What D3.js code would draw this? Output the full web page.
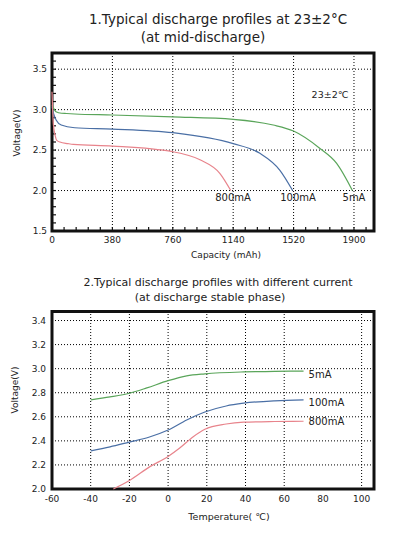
<!DOCTYPE html>
<html>
<head>
<meta charset="utf-8">
<script src="https://cdn.jsdelivr.net/npm/d3@7"></script>
<style>
  body { margin: 0; background: #fff; }
  text { font-family: "DejaVu Sans", sans-serif; fill: #222; }
</style>
</head>
<body>
<div id="chart"></div>
<script>
// chart 1: capacity (mAh) vs voltage, at 23±2°C
var capTicks = [0, 380, 760, 1140, 1520, 1900],
    voltTicks1 = [1.5, 2.0, 2.5, 3.0, 3.5];

var cap5 = [0, 25, 60, 92, 143, 380, 760, 1140, 1392, 1520, 1686, 1791, 1890],
    volt5 = [3.06, 2.975, 2.955, 2.952, 2.946, 2.934, 2.91, 2.88, 2.81, 2.735, 2.52, 2.335, 2.0];
var cap100 = [0, 10, 27, 58, 143, 380, 760, 1140, 1308, 1434, 1514],
    volt100 = [3.04, 2.95, 2.87, 2.81, 2.776, 2.76, 2.715, 2.58, 2.46, 2.25, 2.0];
var cap800 = [0, 4, 8, 20, 30, 50, 100, 134, 380, 760, 931, 1057, 1125],
    volt800 = [3.22, 3.0, 2.83, 2.68, 2.62, 2.6, 2.58, 2.57, 2.55, 2.48, 2.38, 2.21, 2.0];

// chart 2: temperature vs voltage at stable phase
var tempTicks = [-60, -40, -20, 0, 20, 40, 60, 80, 100],
    voltTicks2 = [2.0, 2.2, 2.4, 2.6, 2.8, 3.0, 3.2, 3.4];

var temp5 = [-40, -30, -20, -11, 0, 9.6, 19, 39, 55, 70],
    tv5 = [2.74, 2.765, 2.796, 2.84, 2.90, 2.94, 2.957, 2.973, 2.977, 2.98];
var temp100 = [-40, -30, -20, -10, 0, 9.6, 19, 30, 39, 55, 70],
    tv100 = [2.316, 2.35, 2.39, 2.43, 2.49, 2.574, 2.64, 2.69, 2.713, 2.733, 2.74];
var temp800 = [-28.3, -20, -9.4, 0, 6, 13, 19, 30, 39, 55, 70],
    tv800 = [2.0, 2.07, 2.186, 2.27, 2.34, 2.435, 2.497, 2.54, 2.555, 2.561, 2.563];

var names = ["5mA", "100mA", "800mA"],
    colors = ["#5aa55a", "#4a6fa5", "#e8848c"];

var W = 407, H = 539;

var svg = d3.select("#chart").append("svg")
    .attr("width", W)
    .attr("height", H);

function zip(xs, ys) {
  return xs.map(function(x, i) { return [x, ys[i]]; });
}

function drawFrame(g, x, y, xGrid, yGrid) {
  var x0 = x.range()[0], x1 = x.range()[1],
      y0 = y.range()[0], y1 = y.range()[1];

  g.selectAll("line.hgrid")
    .data(yGrid).enter().append("line")
    .attr("class", "hgrid")
    .attr("x1", x0).attr("x2", x1)
    .attr("y1", function(d) { return y(d); })
    .attr("y2", function(d) { return y(d); })
    .attr("stroke", "#000")
    .attr("stroke-width", 1)
    .attr("stroke-dasharray", "1,2");

  g.selectAll("line.vgrid")
    .data(xGrid).enter().append("line")
    .attr("class", "vgrid")
    .attr("y1", y0).attr("y2", y1)
    .attr("x1", function(d) { return x(d); })
    .attr("x2", function(d) { return x(d); })
    .attr("stroke", "#000")
    .attr("stroke-width", 1)
    .attr("stroke-dasharray", "1,2");

  g.append("rect")
    .attr("x", x0).attr("y", y1)
    .attr("width", x1 - x0).attr("height", y0 - y1)
    .attr("fill", "none")
    .attr("stroke", "#111")
    .attr("stroke-width", 3);
}

// ---------- chart 1 ----------
var x1 = d3.scaleLinear().domain([0, 2026]).range([52, 374]),
    y1 = d3.scaleLinear().domain([1.5, 3.7]).range([231, 53]);

var g1 = svg.append("g");

drawFrame(g1, x1, y1, capTicks.slice(1), voltTicks1.slice(1));

// minor ticks, inward
g1.selectAll("line.xminor")
  .data(d3.range(0, 2026, 76)).enter().append("line")
  .attr("x1", function(d) { return x1(d); })
  .attr("x2", function(d) { return x1(d); })
  .attr("y1", 231).attr("y2", 227)
  .attr("stroke", "#111").attr("stroke-width", 1.2);

g1.selectAll("line.yminor")
  .data(d3.range(15, 37).map(function(d) { return d / 10; })).enter().append("line")
  .attr("y1", function(d) { return y1(d); })
  .attr("y2", function(d) { return y1(d); })
  .attr("x1", 52).attr("x2", 56)
  .attr("stroke", "#111").attr("stroke-width", 1.2);

var line1 = d3.line()
  .x(function(d) { return x1(d[0]); })
  .y(function(d) { return y1(d[1]); })
  .curve(d3.curveMonotoneX);

var series1 = [zip(cap5, volt5), zip(cap100, volt100), zip(cap800, volt800)];

g1.selectAll("path.curve")
  .data(series1).enter().append("path")
  .attr("d", line1)
  .attr("fill", "none")
  .attr("stroke", function(d, i) { return colors[i]; })
  .attr("stroke-width", 1.2);

g1.selectAll("text.ytick")
  .data(voltTicks1).enter().append("text")
  .attr("x", 47)
  .attr("y", function(d) { return y1(d); })
  .attr("dy", "0.35em")
  .attr("text-anchor", "end")
  .attr("font-size", 9)
  .text(function(d) { return d.toFixed(1); });

g1.selectAll("text.xtick")
  .data(capTicks).enter().append("text")
  .attr("x", function(d) { return x1(d); })
  .attr("y", 242.5)
  .attr("text-anchor", "middle")
  .attr("font-size", 9)
  .text(function(d) { return d; });

// end labels
var endLabels1 = [[1890, 354], [1514, 298], [1125, 233]];
g1.selectAll("text.endlab")
  .data(names).enter().append("text")
  .attr("x", function(d, i) { return endLabels1[i][1]; })
  .attr("y", 201)
  .attr("text-anchor", "middle")
  .attr("font-size", 10)
  .text(function(d) { return d; });

g1.append("text")
  .attr("x", 330).attr("y", 98)
  .attr("text-anchor", "middle")
  .attr("font-size", 9.5)
  .text("23±2℃");

g1.append("text")
  .attr("x", 218).attr("y", 24)
  .attr("text-anchor", "middle")
  .attr("font-size", 13.5)
  .text("1.Typical discharge profiles at 23±2°C");
g1.append("text")
  .attr("x", 203).attr("y", 42)
  .attr("text-anchor", "middle")
  .attr("font-size", 13.5)
  .text("(at mid-discharge)");

g1.append("text")
  .attr("transform", "translate(20,133) rotate(-90)")
  .attr("text-anchor", "middle")
  .attr("font-size", 9)
  .text("Voltage(V)");

g1.append("text")
  .attr("x", 226).attr("y", 258)
  .attr("text-anchor", "middle")
  .attr("font-size", 9)
  .text("Capacity (mAh)");

// ---------- chart 2 ----------
var x2 = d3.scaleLinear().domain([-60, 106.4]).range([52, 374]),
    y2 = d3.scaleLinear().domain([2.0, 3.475]).range([489, 311.5]);

var g2 = svg.append("g");

drawFrame(g2, x2, y2,
  tempTicks.filter(function(d) { return d > -60 && d !== 80; }),
  voltTicks2.slice(1));

var line2 = d3.line()
  .x(function(d) { return x2(d[0]); })
  .y(function(d) { return y2(d[1]); })
  .curve(d3.curveMonotoneX);

var series2 = [zip(temp5, tv5), zip(temp100, tv100), zip(temp800, tv800)];

g2.selectAll("path.curve")
  .data(series2).enter().append("path")
  .attr("d", line2)
  .attr("fill", "none")
  .attr("stroke", function(d, i) { return colors[i]; })
  .attr("stroke-width", 1.2);

g2.selectAll("text.endlab")
  .data(series2).enter().append("text")
  .attr("x", function(d) { return x2(d[d.length - 1][0]) + 5; })
  .attr("y", function(d, i) { return y2(d[d.length - 1][1]) + [3, 3, 0][i]; })
  .attr("dy", "0.35em")
  .attr("font-size", 10)
  .text(function(d, i) { return names[i]; });

g2.selectAll("text.ytick")
  .data(voltTicks2).enter().append("text")
  .attr("x", 46)
  .attr("y", function(d) { return y2(d); })
  .attr("dy", "0.35em")
  .attr("text-anchor", "end")
  .attr("font-size", 9)
  .text(function(d) { return d.toFixed(1); });

g2.selectAll("text.xtick")
  .data(tempTicks).enter().append("text")
  .attr("x", function(d) { return x2(d); })
  .attr("y", 501.5)
  .attr("text-anchor", "middle")
  .attr("font-size", 9)
  .text(function(d) { return d; });

g2.append("text")
  .attr("x", 218).attr("y", 285.5)
  .attr("text-anchor", "middle")
  .attr("font-size", 11)
  .text("2.Typical discharge profiles with different current");
g2.append("text")
  .attr("x", 210).attr("y", 300.5)
  .attr("text-anchor", "middle")
  .attr("font-size", 11)
  .text("(at discharge stable phase)");

g2.append("text")
  .attr("transform", "translate(18,390) rotate(-90)")
  .attr("text-anchor", "middle")
  .attr("font-size", 9)
  .text("Voltage(V)");

g2.append("text")
  .attr("x", 229).attr("y", 520)
  .attr("text-anchor", "middle")
  .attr("font-size", 9.5)
  .text("Temperature( ℃)");
</script>
</body>
</html>
